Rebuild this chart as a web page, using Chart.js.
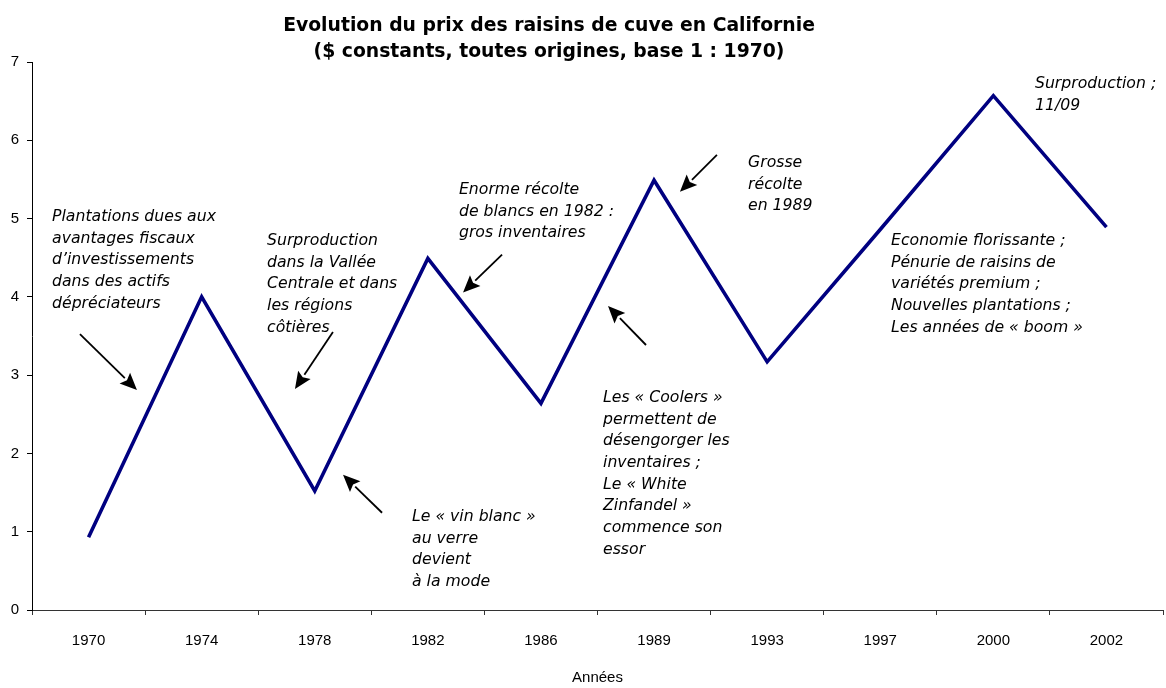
<!DOCTYPE html>
<html>
<head>
<meta charset="utf-8">
<title>Evolution du prix des raisins de cuve en Californie</title>
<script src="https://cdn.jsdelivr.net/npm/chart.js@4"></script>
<style>
  html, body { margin: 0; padding: 0; background: #fff; }
</style>
</head>
<body>
<canvas id="mycanvas" width="1166" height="688"></canvas>
<script>
var years = ['1970', '1974', '1978', '1982', '1986', '1989', '1993', '1997', '2000', '2002'];
var prix = [0.93, 4.0, 1.52, 4.49, 2.64, 5.49, 3.17, 4.86, 6.57, 4.89];
var yTicks = [0, 1, 2, 3, 4, 5, 6, 7];
var titleLines = ['Evolution du prix des raisins de cuve en Californie', '($ constants, toutes origines, base 1 : 1970)'];
var xTitle = 'Années';

// commentaires, places en (index de categorie, valeur)
var notes = [
  { x: -0.323, y: 4.969, lines: ['Plantations dues aux', 'avantages fiscaux', 'd\u2019investissements', 'dans des actifs', 'dépréciateurs'] },
  { x: 1.578, y: 4.662, lines: ['Surproduction', 'dans la Vallée', 'Centrale et dans', 'les régions', 'côtières'] },
  { x: 3.275, y: 5.313, lines: ['Enorme récolte', 'de blancs en 1982 :', 'gros inventaires'] },
  { x: 4.549, y: 2.657, lines: ['Les « Coolers »', 'permettent de', 'désengorger les', 'inventaires ;', 'Le « White', 'Zinfandel »', 'commence son', 'essor'] },
  { x: 2.860, y: 1.137, lines: ['Le « vin blanc »', 'au verre', 'devient', 'à la mode'] },
  { x: 5.831, y: 5.658, lines: ['Grosse', 'récolte', 'en 1989'] },
  { x: 7.095, y: 4.662, lines: ['Economie florissante ;', 'Pénurie de raisins de', 'variétés premium ;', 'Nouvelles plantations ;', 'Les années de « boom »'] },
  { x: 8.368, y: 6.667, lines: ['Surproduction ;', '11/09'] }
];

// fleches : de [index, valeur] vers [index, valeur]
var arrows = [
  { from: [-0.076, 3.525], to: [0.428, 2.81] },
  { from: [2.161, 3.551], to: [1.825, 2.823] },
  { from: [3.656, 4.540], to: [3.311, 4.055] },
  { from: [4.929, 3.385], to: [4.593, 3.883] },
  { from: [2.595, 1.242], to: [2.250, 1.727] },
  { from: [5.556, 5.815], to: [5.229, 5.342] }
];

var decor = {
  id: 'decor',
  afterDatasetsDraw: function(chart) {
    var ctx = chart.ctx;
    var xs = chart.scales.x, ys = chart.scales.y;
    ctx.save();
    ctx.fillStyle = '#000';
    ctx.strokeStyle = '#000';

    // titre
    ctx.textAlign = 'center';
    ctx.textBaseline = 'alphabetic';
    ctx.font = 'bold 18.8px "DejaVu Sans"';
    ctx.fillText(titleLines[0], 549, 31);
    ctx.fillText(titleLines[1], 549, 57);

    // textes en italique
    ctx.textAlign = 'left';
    ctx.font = 'italic 15.7px "DejaVu Sans"';
    notes.forEach(function(n) {
      var px = xs.getPixelForValue(n.x);
      var py = ys.getPixelForValue(n.y);
      n.lines.forEach(function(t, k) {
        ctx.fillText(t, px, py + k * 21.7);
      });
    });

    // fleches
    arrows.forEach(function(a) {
      var x1 = xs.getPixelForValue(a.from[0]), y1 = ys.getPixelForValue(a.from[1]);
      var x2 = xs.getPixelForValue(a.to[0]), y2 = ys.getPixelForValue(a.to[1]);
      var ang = Math.atan2(y2 - y1, x2 - x1);
      var L = 17, W = 7.5;
      var bx = x2 - L * Math.cos(ang), by = y2 - L * Math.sin(ang);
      ctx.lineWidth = 1.8;
      ctx.beginPath();
      ctx.moveTo(x1, y1);
      ctx.lineTo(bx, by);
      ctx.stroke();
      ctx.beginPath();
      ctx.moveTo(x2, y2);
      ctx.lineTo(bx + W * Math.sin(ang), by - W * Math.cos(ang));
      ctx.lineTo(bx + 3 * Math.cos(ang), by + 3 * Math.sin(ang));
      ctx.lineTo(bx - W * Math.sin(ang), by + W * Math.cos(ang));
      ctx.closePath();
      ctx.fill();
    });
    ctx.restore();
  }
};

var tickFont = { family: 'Liberation Sans', size: 15 };

var chart = new Chart(document.getElementById('mycanvas'), {
  type: 'line',
  data: {
    labels: years,
    datasets: [{
      label: 'Prix',
      data: prix,
      borderColor: '#000080',
      borderWidth: 3.6,
      pointRadius: 0,
      tension: 0,
      fill: false
    }]
  },
  options: {
    responsive: false,
    animation: false,
    devicePixelRatio: 1,
    layout: { padding: { top: 62, right: 3, left: 0, bottom: 0 } },
    plugins: {
      legend: { display: false },
      tooltip: { enabled: false },
      title: { display: false }
    },
    scales: {
      x: {
        offset: true,
        grid: { offset: true, drawOnChartArea: false, drawTicks: true, tickLength: 5, color: '#333' },
        border: { color: '#333', width: 1 },
        ticks: { color: '#000', font: tickFont, padding: 17, maxRotation: 0, autoSkip: false },
        title: { display: true, text: xTitle, color: '#000', font: tickFont, padding: { top: 0, bottom: 1 } },
        afterFit: function(s) { s.height = 78; }
      },
      y: {
        min: 0,
        max: 7,
        afterBuildTicks: function(s) { s.ticks = yTicks.map(function(v) { return { value: v }; }); },
        ticks: { color: '#000', font: tickFont, padding: 8 },
        grid: { drawOnChartArea: false, drawTicks: true, tickLength: 5, color: '#000' },
        border: { color: '#000', width: 1 },
        afterFit: function(s) { s.width = 32; }
      }
    }
  },
  plugins: [decor]
});
</script>
</body>
</html>
